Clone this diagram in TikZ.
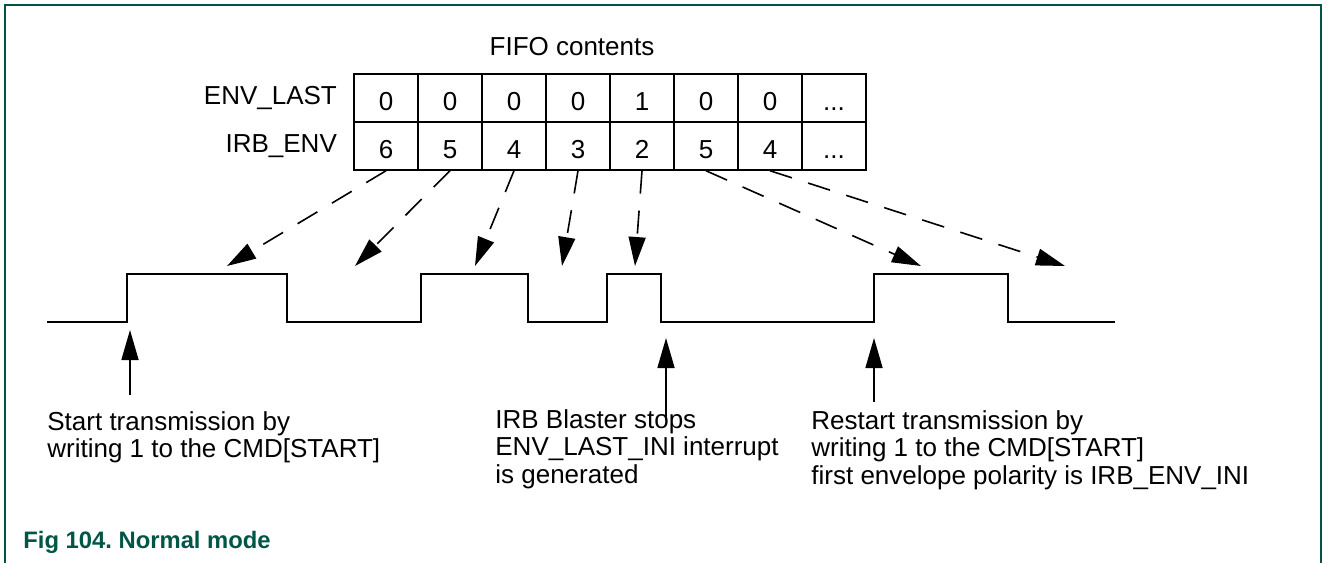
\documentclass[tikz,border=0pt]{standalone}
\usepackage{fontspec}
\setmainfont{Liberation Sans}
\usetikzlibrary{arrows.meta,positioning}
\definecolor{nxpgreen}{RGB}{0,86,70}
\newcommand{\fifomore}{...}
\frenchspacing

\begin{document}
\begin{tikzpicture}[x=0.5pt,y=-0.5pt,
  every node/.style={font=\fontsize{13}{13.75}\selectfont},
  cell/.style={draw,line width=0.75pt,minimum width=32pt,minimum height=24pt,inner sep=0pt,text height=12.3pt,text depth=0pt},
  rowlabel/.style={inner sep=0pt},
  note/.style={inner sep=0pt,align=left,anchor=base west},
  fifoarrow/.style={-{Triangle[length=14.5pt,width=8.5pt]},line width=0.8pt,dash pattern=on 11.5pt off 8.5pt},
  uparrow/.style={-{Triangle[length=15pt,width=8.5pt]},line width=0.8pt}]
  \useasboundingbox (0,0) rectangle (1327,563);
  \draw[nxpgreen,line width=0.8pt] (5,563) -- (5,5) -- (1321,5) -- (1321,563);
  \node[inner sep=0pt,anchor=base] (fifo) at (572,55) {FIFO contents};
  \foreach \v [count=\i] in {0,0,0,0,1,0,0,\fifomore}
    \node[cell] (l\i) at ({386+64*(\i-1)},98) {\v};
  \foreach \v [count=\i] in {6,5,4,3,2,5,4,\fifomore}
    \node[cell] (e\i) at ({386+64*(\i-1)},146) {\v};
  \node[rowlabel,left=8pt of l1] (lastlbl) {ENV\_LAST};
  \node[rowlabel,left=8pt of e1] (envlbl) {IRB\_ENV};
  \foreach \x [count=\i] in {227,355,475,562,635,921,1065}
    \coordinate (t\i) at (\x,266);
  \foreach \i in {1,...,7}
    \draw[fifoarrow] (e\i.south) -- (t\i);
  \draw[line width=0.8pt] (47,322) -- (127,322) -- (127,274) -- (287,274) -- (287,322)
    -- (421,322) -- (421,274) -- (528,274) -- (528,322) -- (607,322) -- (607,274)
    -- (661,274) -- (661,322) -- (874,322) -- (874,274) -- (1008,274) -- (1008,322)
    -- (1115,322);
  \coordinate (start) at (130,330);
  \coordinate (stop) at (666,338);
  \coordinate (restart) at (874,338);
  \coordinate (b1) at (130,395);
  \coordinate (b2) at (666,420);
  \coordinate (b3) at (874,402);
  \draw[uparrow] (b1) -- (start);
  \draw[uparrow] (b2) -- (stop);
  \draw[uparrow] (b3) -- (restart);
  \node[note] (startnote) at (47,457.5) {Start transmission by\\writing 1 to the CMD[START]};
  \node[note] (stopnote) at (495,483) {IRB Blaster stops\\ENV\_LAST\_INI interrupt\\is generated};
  \node[note] (restartnote) at (811,484) {Restart transmission by\\writing 1 to the CMD[START]\\first envelope polarity is IRB\_ENV\_INI};
  \node[inner sep=0pt,anchor=base west,text=nxpgreen,font=\fontsize{11.9}{13}\selectfont\bfseries] (caption) at (23,548) {Fig 104. Normal mode};
\end{tikzpicture}
\end{document}
